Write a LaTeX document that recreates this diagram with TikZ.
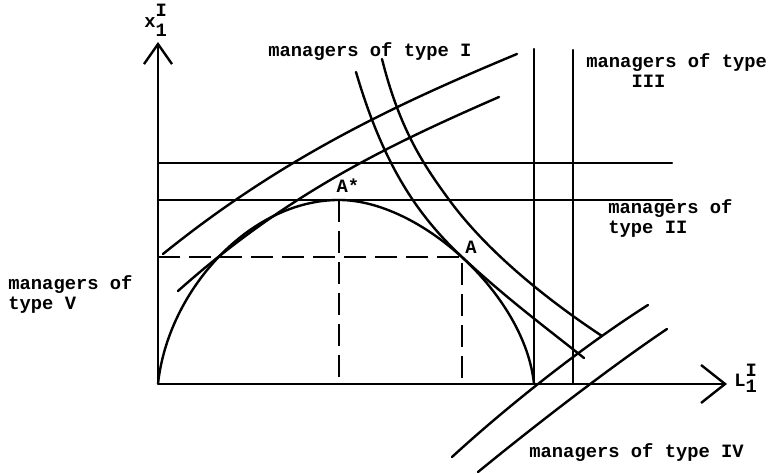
\documentclass[tikz,border=0pt]{standalone}
\usepackage{amsmath}
\usepackage{fontspec}
\setmonofont{Liberation Mono}
\usepackage{tikz}
\usetikzlibrary{arrows.meta, positioning}

\newcommand\scriptpair[4]{\rlap{\raisebox{#3}{#1}}\raisebox{#4}{#2}}

\begin{document}
\begin{tikzpicture}[
  x=0.5pt, y=0.5pt,
  curve/.style={line width=1.2pt, line cap=round},
  guide/.style={line width=1.1pt, dash pattern=on 11pt off 4.5pt},
  lbl/.style={font=\ttfamily\bfseries\fontsize{9.4}{10}\selectfont, inner sep=0pt, align=left, anchor=west},
  pt/.style={font=\ttfamily\bfseries\fontsize{9.4}{10}\selectfont, inner sep=0pt},
  axis/.style={line width=1.2pt}
]
\useasboundingbox (-158,-90) rectangle (615,384);
% axes
\coordinate (O) at (0,0);
\coordinate (ytip) at (0,342);
\coordinate (xtip) at (569,0);
\draw[axis, -{Straight Barb[length=10pt, width=14pt]}] (O) -- (ytip);
\draw[axis, -{Straight Barb[length=12pt, width=19pt]}] (O) -- (xtip);
\node[pt, anchor=base west] (ylab) at (-14,356) {x\scriptpair{I}{1}{5.5pt}{-4.5pt}};
\node[pt, anchor=base west] (xlab) at (576,-3) {L\scriptpair{I}{1}{5pt}{-3pt}};
% points
\coordinate (Astar) at (181,184);
\coordinate (A) at (304,127);
\draw[guide] (O |- A) -- (A) -- (A |- O);
\draw[guide] (Astar) -- (Astar |- O);
% hump
\draw[curve] (O) .. controls (10,94) and (92,184) .. (Astar)
  .. controls (262,184) and (367,89) .. (376,0);
% type II
\draw[curve] (0,221) -- (514,221);
\draw[curve] (0,184) -- (514,184);
% type III
\draw[curve] (376,0) -- (376,335);
\draw[curve] (415,0) -- (415,334);
% type I
\draw[curve] (5,130) .. controls (125,227) and (239,280) .. (359,330);
\draw[curve] (20,93) .. controls (130,191) and (231,239) .. (341,287);
% downward curves
\draw[curve] (198,312) .. controls (225,220) and (259,169) .. (A)
  .. controls (349,85) and (391,54) .. (426,26);
\draw[curve] (224,325) .. controls (242,253) and (267,217) .. (292,183)
  .. controls (332,129) and (394,81) .. (444,48);
% type IV
\draw[curve] (294,-73) .. controls (354,-18) and (430,41) .. (490,79);
\draw[curve] (320,-88) .. controls (380,-39) and (454,18) .. (509,55);
% labels
\node[pt] (lblAstar) at (190,198) {A*};
\node[pt] (lblA) at (313,137) {A};
\node[lbl] (mgrI) at (110,332) {managers of type I};
\node[lbl] (mgrIII) at (428,313) {managers of type\\\phantom{mana}III};
\node[lbl] (mgrII) at (450,165) {managers of\\type II};
\node[lbl] (mgrV) at (-150,89) {managers of\\type V};
\node[lbl] (mgrIV) at (371,-69) {managers of type IV};
\end{tikzpicture}
\end{document}
